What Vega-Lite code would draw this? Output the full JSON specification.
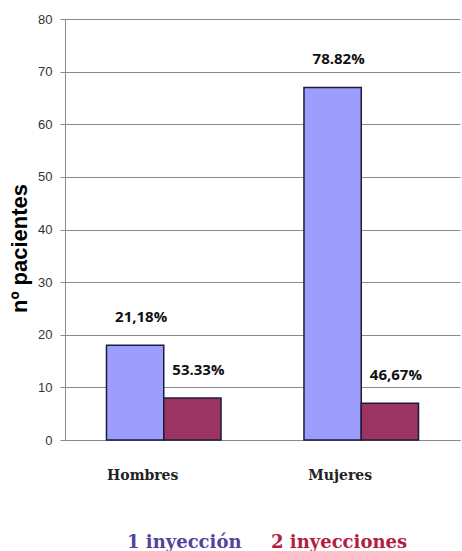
{
  "$schema": "https://vega.github.io/schema/vega-lite/v6.json",
  "width": 395,
  "height": 421,
  "autosize": "none",
  "padding": {"left": 65, "top": 19, "right": 2, "bottom": 111},
  "background": "white",
  "config": {"view": {"stroke": null}},
  "data": {
    "values": [
      {"grupo": "Hombres", "tipo": "1 inyección", "n": 18, "pct": "21,18%"},
      {"grupo": "Hombres", "tipo": "2 inyecciones", "n": 8, "pct": "53.33%"},
      {"grupo": "Mujeres", "tipo": "1 inyección", "n": 67, "pct": "78.82%"},
      {"grupo": "Mujeres", "tipo": "2 inyecciones", "n": 7, "pct": "46,67%"}
    ]
  },
  "encoding": {
    "x": {
      "field": "grupo",
      "type": "nominal",
      "scale": {"paddingInner": 0.42, "paddingOuter": 0.21},
      "axis": {
        "title": null,
        "labelAngle": 0,
        "ticks": false,
        "domainColor": "#8a8a8a",
        "labelFont": "DejaVu Serif",
        "labelFontWeight": "bold",
        "labelFontSize": 14,
        "labelColor": "#222",
        "labelPadding": 28,
        "labelOffset": -21
      }
    },
    "xOffset": {"field": "tipo", "type": "nominal"},
    "y": {
      "field": "n",
      "type": "quantitative",
      "scale": {"domain": [0, 80], "nice": false},
      "axis": {
        "values": [0, 10, 20, 30, 40, 50, 60, 70, 80],
        "title": "nº pacientes",
        "titleFont": "Liberation Sans",
        "titleFontWeight": "bold",
        "titleFontSize": 22,
        "titleColor": "#000",
        "titleX": -34,
        "titleY": 229,
        "labelFont": "Liberation Sans",
        "labelFontSize": 13,
        "labelColor": "#333",
        "labelPadding": 8,
        "tickSize": 5,
        "tickColor": "#8a8a8a",
        "domainColor": "#8a8a8a",
        "gridColor": "#8a8a8a",
        "gridWidth": 1
      }
    }
  },
  "layer": [
    {
      "mark": {"type": "bar", "stroke": "#1c1c3a", "strokeWidth": 1.5},
      "encoding": {
        "color": {
          "field": "tipo",
          "type": "nominal",
          "scale": {"domain": ["1 inyección", "2 inyecciones"], "range": ["#9d9dfd", "#9b3462"]},
          "legend": {
            "title": null,
            "orient": "none",
            "direction": "horizontal",
            "legendX": 44,
            "legendY": 515,
            "symbolSize": 0,
            "symbolOpacity": 0,
            "symbolStrokeWidth": 0,
            "labelOffset": 0,
            "columnPadding": 11,
            "labelFont": "DejaVu Serif",
            "labelFontWeight": "bold",
            "labelFontSize": 18,
            "labelLimit": 300,
            "labelColor": {"expr": "datum.label === '1 inyección' ? '#52449c' : '#b3203f'"}
          }
        }
      }
    },
    {
      "mark": {
        "type": "text",
        "font": "Open Sans",
        "fontWeight": "bold",
        "fontSize": 15,
        "color": "#111",
        "baseline": "middle",
        "dy": -28,
        "dx": 6
      },
      "encoding": {"text": {"field": "pct"}}
    }
  ]
}
